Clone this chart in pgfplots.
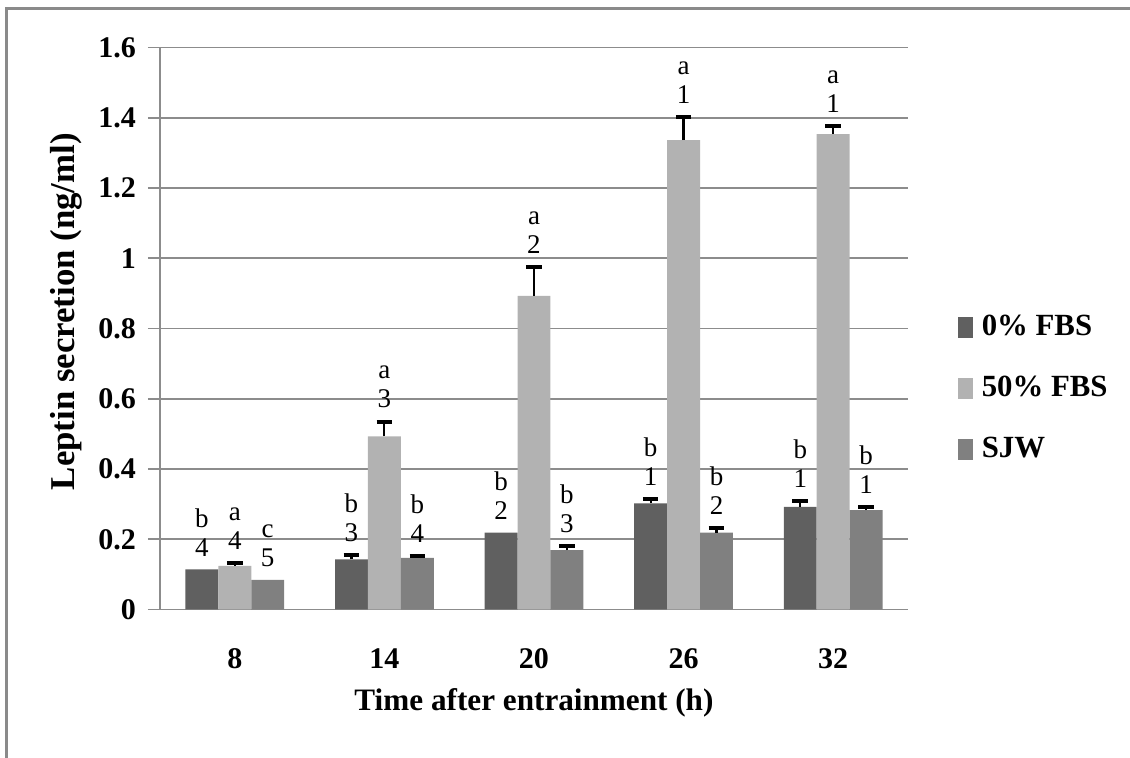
\documentclass[border=0pt]{standalone}
\usepackage{fontspec}
\setmainfont{Liberation Serif}
\usepackage{pgfplots}
\pgfplotsset{compat=1.18}
\usepackage{pgfplotstable}

\definecolor{zeroFBS}{HTML}{606060}
\definecolor{fiftyFBS}{HTML}{B2B2B2}
\definecolor{sjwcol}{HTML}{808080}
\definecolor{gridgrey}{HTML}{8C8C8C}
\definecolor{framegrey}{HTML}{8A8A8A}

% mean leptin secretion (ng/ml) and upper error, per time point (0..4 = 8,14,20,26,32 h)
\pgfplotstableread{
x y err
0 0.114 0.000
1 0.143 0.012
2 0.219 0.000
3 0.302 0.012
4 0.292 0.017
}\zeroTab
\pgfplotstableread{
x y err
0 0.124 0.009
1 0.493 0.042
2 0.893 0.083
3 1.336 0.066
4 1.353 0.023
}\fiftyTab
\pgfplotstableread{
x y err
0 0.084 0.000
1 0.147 0.006
2 0.169 0.012
3 0.219 0.012
4 0.283 0.008
}\sjwTab

\pgfplotsset{
  errbars/.style={
    forget plot, draw=none, fill=none,
    error bars/.cd, y dir=plus, y explicit,
    error bar style={draw=black, line width=1.1pt},
    error mark options={rotate=90, draw=black, mark size=3.9pt, line width=2pt},
  },
}

\begin{document}
\begin{tikzpicture}[x=1pt,y=1pt,
  lab/.style={anchor=south, align=center, inner sep=0pt, yshift=6.5pt,
    font=\rmfamily\fontsize{13.5}{14.5}\selectfont}]
\path[use as bounding box] (-80,-74.25) rectangle (485,304.75);
\draw[framegrey, line width=1.5pt] (-76.5,-74.25) -- (-76.5,300.25) -- (485,300.25);
\begin{axis}[
  at={(0pt,0pt)}, anchor=south west,
  scale only axis, width=374pt, height=281pt,
  ybar, bar width=0.22,
  xmin=-0.5, xmax=4.5, ymin=0, ymax=1.6,
  axis lines*=left,
  axis line style={gridgrey, line width=0.8pt},
  xtick={0,1,2,3,4}, xticklabels={8,14,20,26,32},
  xtick style={draw=none},
  ytick={0,0.2,0.4,0.6,0.8,1,1.2,1.4,1.6},
  ytick style={gridgrey, line width=0.8pt},
  tick align=outside, major tick length=6pt,
  ymajorgrids, grid style={gridgrey, line width=0.8pt},
  /pgf/number format/fixed,
  /pgf/number format/assume math mode=true,
  yticklabel style={font=\bfseries\fontsize{15}{18}\selectfont, xshift=-2.5pt},
  xticklabel style={font=\bfseries\fontsize{15}{18}\selectfont, yshift=-10pt},
  xlabel={Time after entrainment (h)},
  ylabel={Leptin secretion (ng/ml)},
  xlabel style={font=\bfseries\fontsize{15.6}{18}\selectfont,
    at={(axis description cs:0.5,-0.1664)}, anchor=center},
  ylabel style={font=\bfseries\fontsize{17.4}{20}\selectfont,
    at={(axis description cs:-0.1257,0.53)}, anchor=center},
  legend style={at={(axis description cs:1.0667,0.394)}, anchor=west,
    draw=none, fill=none, inner sep=0pt, row sep=15.25pt,
    font=\bfseries\fontsize{15.4}{18}\selectfont,
    nodes={inner sep=1.75pt},
    /tikz/every odd column/.append style={column sep=2.5pt}},
  legend cell align=left,
  legend image code/.code={\fill[#1] (0pt,-5.25pt) rectangle (7.5pt,5.25pt);},
]
\addplot[fill=zeroFBS, draw=none, bar shift=-0.22] table[x=x,y=y]{\zeroTab};
\addlegendentry{0\% FBS}
\addplot[fill=fiftyFBS, draw=none, bar shift=0] table[x=x,y=y]{\fiftyTab};
\addlegendentry{50\% FBS}
\addplot[fill=sjwcol, draw=none, bar shift=0.22] table[x=x,y=y]{\sjwTab};
\addlegendentry{SJW}

% upper error bars (points without a drawn error are skipped)
\addplot[bar shift=-0.22, skip coords between index={0}{1},
  skip coords between index={2}{3}, errbars] table[x=x,y=y,y error=err]{\zeroTab};
\addplot[bar shift=0, errbars] table[x=x,y=y,y error=err]{\fiftyTab};
\addplot[bar shift=0.22, skip coords between index={0}{1}, errbars]
  table[x=x,y=y,y error=err]{\sjwTab};

% significance letters and ranks above each bar
\node[lab] at (axis cs:-0.22,0.114) {b\\4};
\node[lab] at (axis cs:0,0.133) {a\\4};
\node[lab] at (axis cs:0.22,0.084) {c\\5};
\node[lab] at (axis cs:0.78,0.155) {b\\3};
\node[lab] at (axis cs:1,0.535) {a\\3};
\node[lab] at (axis cs:1.22,0.153) {b\\4};
\node[lab] at (axis cs:1.78,0.219) {b\\2};
\node[lab] at (axis cs:2,0.976) {a\\2};
\node[lab] at (axis cs:2.22,0.181) {b\\3};
\node[lab] at (axis cs:2.78,0.314) {b\\1};
\node[lab] at (axis cs:3,1.402) {a\\1};
\node[lab] at (axis cs:3.22,0.231) {b\\2};
\node[lab] at (axis cs:3.78,0.309) {b\\1};
\node[lab] at (axis cs:4,1.376) {a\\1};
\node[lab] at (axis cs:4.22,0.291) {b\\1};
\end{axis}
\end{tikzpicture}
\end{document}
